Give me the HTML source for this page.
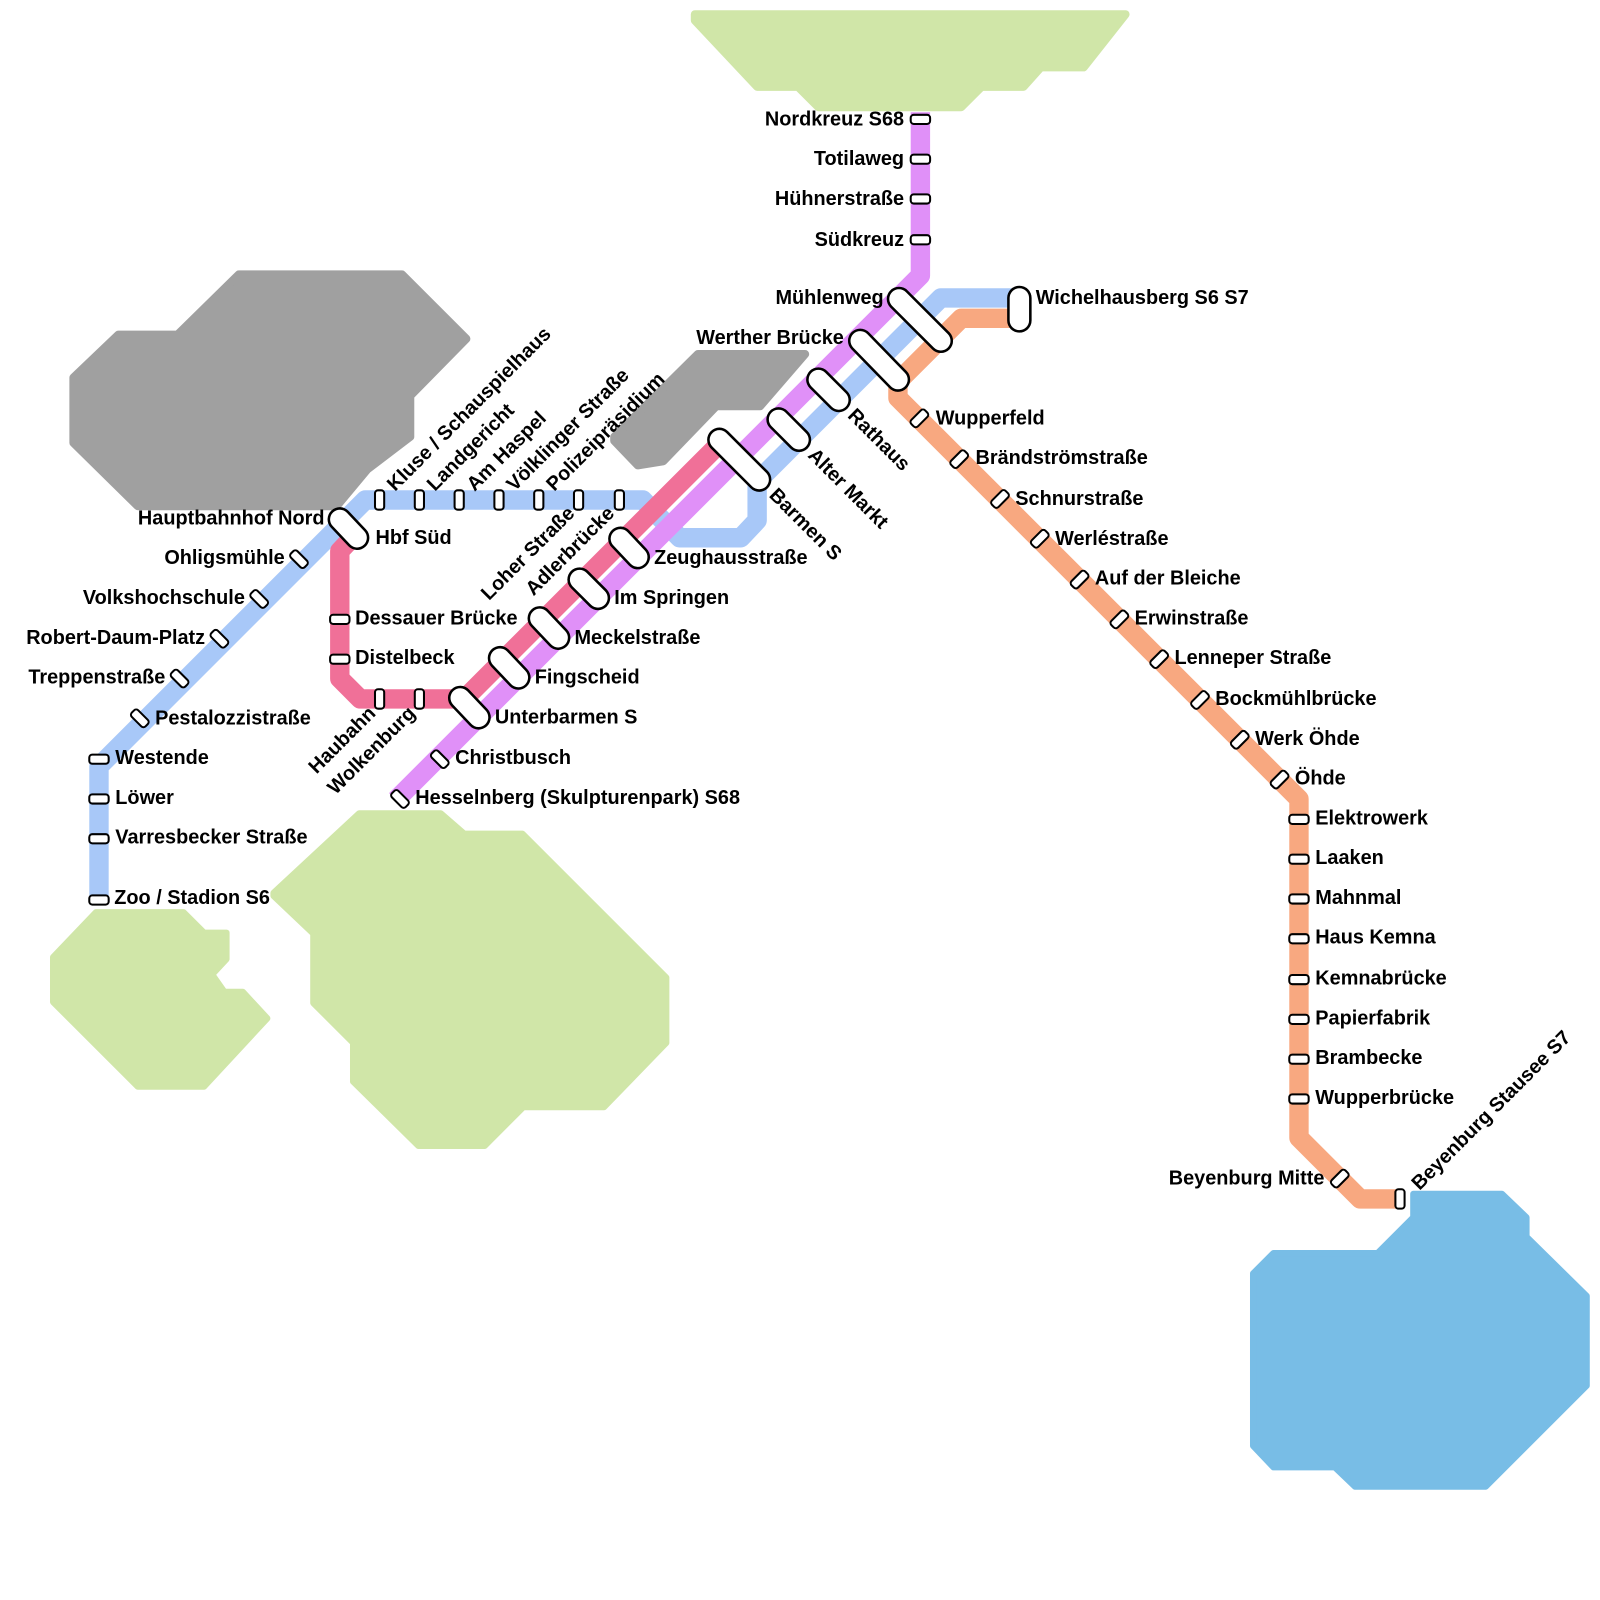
<!DOCTYPE html>
<html><head><meta charset="utf-8"><style>
html,body{margin:0;padding:0;background:#fff;}
svg{display:block}
text{font-family:"Liberation Sans",Arial,sans-serif;font-weight:bold;font-size:19.5px;fill:#000;dominant-baseline:central}
.e{text-anchor:end}
</style></head><body>
<svg width="1600" height="1600" viewBox="0 0 1600 1600" xmlns="http://www.w3.org/2000/svg">
<g transform="scale(1.0204)">
<g stroke-linejoin="round">
<polygon fill="#d0e6a8" stroke="#d0e6a8" stroke-width="8" points="681,14 1103,14 1062,66 1020,66 1003,85 962,85 942,105 802,105 782,85 742,85 681,20"/>
<polygon fill="#a0a0a0" stroke="#a0a0a0" stroke-width="8" points="234,269 394,269 457,332 402,388 402,428 360,460 330,496 135,496 72,434 72,370 116,328 174,328"/>
<polygon fill="#a0a0a0" stroke="#a0a0a0" stroke-width="8" points="684,347 789,347 745,398 702,398 650,452 625,456 602,432 602,428"/>
<polygon fill="#d0e6a8" stroke="#d0e6a8" stroke-width="6" points="94,894 180,894 200,914 222,914 222,940 208,955 220,972 238,972 262,998 200,1065 135,1065 52,982 52,938"/>
<polygon fill="#d0e6a8" stroke="#d0e6a8" stroke-width="6" points="352,797 432,797 455,817 512,817 653,958 653,1022 592,1085 513,1085 475,1123 410,1123 346,1060 346,1022 307,983 307,915 268,878 268,875"/>
<polygon fill="#78bde6" stroke="#78bde6" stroke-width="6" points="1385,1170 1472,1170 1496,1193 1496,1212 1555,1270 1555,1358 1456,1457 1328,1457 1308,1438 1248,1438 1228,1417 1228,1248 1248,1228 1350,1228 1385,1193"/>
</g>
<g fill="none" stroke-linejoin="round" stroke-linecap="butt" stroke-width="19">
<polyline stroke="#a8c8f8" points="998,292 922,292 742,472 742,510 726,527 666,527 630,490 358,490 97,751 97,886"/>
<polyline stroke="#f8a880" points="998,312 942,312 880,374 880,390 1273,783 1273,1115 1333,1175 1372,1175"/>
<polyline stroke="#f07098" points="350,522 333,540 333,665 353,685 455,685 708,432"/>
<polyline stroke="#e090f8" points="902,110 902,270 388,784"/>
</g>
<g stroke-linecap="round">
<g stroke="#000" stroke-width="24">
<line x1="881" y1="293" x2="922" y2="334"/><line x1="843" y1="334" x2="880" y2="372"/>
<line x1="802" y1="372" x2="822" y2="392"/><line x1="763" y1="411" x2="783" y2="431"/>
<line x1="705" y1="431" x2="744" y2="470"/><line x1="608" y1="528" x2="625" y2="546"/>
<line x1="568" y1="568" x2="586" y2="586"/><line x1="529" y1="606" x2="547" y2="625"/>
<line x1="490" y1="645" x2="508" y2="664"/><line x1="451" y1="684" x2="469" y2="703"/>
<line x1="333" y1="509" x2="350" y2="527"/><line x1="999" y1="292" x2="999" y2="314"/>
</g>
<g stroke="#fff" stroke-width="19">
<line x1="881" y1="293" x2="922" y2="334"/><line x1="843" y1="334" x2="880" y2="372"/>
<line x1="802" y1="372" x2="822" y2="392"/><line x1="763" y1="411" x2="783" y2="431"/>
<line x1="705" y1="431" x2="744" y2="470"/><line x1="608" y1="528" x2="625" y2="546"/>
<line x1="568" y1="568" x2="586" y2="586"/><line x1="529" y1="606" x2="547" y2="625"/>
<line x1="490" y1="645" x2="508" y2="664"/><line x1="451" y1="684" x2="469" y2="703"/>
<line x1="333" y1="509" x2="350" y2="527"/><line x1="999" y1="292" x2="999" y2="314"/>
</g>
</g>
<g fill="#fff" stroke="#000" stroke-width="2">
<g>
<rect x="892.5" y="112.5" width="19" height="9" rx="3"/><rect x="892.5" y="151.5" width="19" height="9" rx="3"/>
<rect x="892.5" y="190.5" width="19" height="9" rx="3"/><rect x="892.5" y="230.5" width="19" height="9" rx="3"/>
<rect x="1263.5" y="798.5" width="19" height="9" rx="3"/><rect x="1263.5" y="837.5" width="19" height="9" rx="3"/>
<rect x="1263.5" y="876.5" width="19" height="9" rx="3"/><rect x="1263.5" y="915.5" width="19" height="9" rx="3"/>
<rect x="1263.5" y="955.5" width="19" height="9" rx="3"/><rect x="1263.5" y="994.5" width="19" height="9" rx="3"/>
<rect x="1263.5" y="1033.5" width="19" height="9" rx="3"/><rect x="1263.5" y="1072.5" width="19" height="9" rx="3"/>
<rect x="87.5" y="739.5" width="19" height="9" rx="3"/><rect x="87.5" y="778.5" width="19" height="9" rx="3"/>
<rect x="87.5" y="817.5" width="19" height="9" rx="3"/><rect x="87.5" y="877.5" width="19" height="9" rx="3"/>
<rect x="323.5" y="602.5" width="19" height="9" rx="3"/><rect x="323.5" y="641.5" width="19" height="9" rx="3"/>
</g>
<g>
<rect x="367.5" y="480.5" width="9" height="19" rx="3"/><rect x="406.5" y="480.5" width="9" height="19" rx="3"/>
<rect x="445.5" y="480.5" width="9" height="19" rx="3"/><rect x="484.5" y="480.5" width="9" height="19" rx="3"/>
<rect x="523.5" y="480.5" width="9" height="19" rx="3"/><rect x="562.5" y="480.5" width="9" height="19" rx="3"/>
<rect x="602.5" y="480.5" width="9" height="19" rx="3"/>
<rect x="367.5" y="675.5" width="9" height="19" rx="3"/><rect x="406.5" y="675.5" width="9" height="19" rx="3"/>
<rect x="1367.5" y="1165.5" width="9" height="19" rx="3"/>
</g>
<g>
<rect x="-9.5" y="-4.5" width="19" height="9" rx="3" transform="translate(293,548) rotate(45)"/>
<rect x="-9.5" y="-4.5" width="19" height="9" rx="3" transform="translate(254,587) rotate(45)"/>
<rect x="-9.5" y="-4.5" width="19" height="9" rx="3" transform="translate(215,626) rotate(45)"/>
<rect x="-9.5" y="-4.5" width="19" height="9" rx="3" transform="translate(176,665) rotate(45)"/>
<rect x="-9.5" y="-4.5" width="19" height="9" rx="3" transform="translate(137,704) rotate(45)"/>
<rect x="-9.5" y="-4.5" width="19" height="9" rx="3" transform="translate(431,744) rotate(45)"/>
<rect x="-9.5" y="-4.5" width="19" height="9" rx="3" transform="translate(392,783) rotate(45)"/>
</g>
<g>
<rect x="-9.5" y="-4.5" width="19" height="9" rx="3" transform="translate(901,410) rotate(-45)"/>
<rect x="-9.5" y="-4.5" width="19" height="9" rx="3" transform="translate(940,450) rotate(-45)"/>
<rect x="-9.5" y="-4.5" width="19" height="9" rx="3" transform="translate(980,489) rotate(-45)"/>
<rect x="-9.5" y="-4.5" width="19" height="9" rx="3" transform="translate(1019,528) rotate(-45)"/>
<rect x="-9.5" y="-4.5" width="19" height="9" rx="3" transform="translate(1058,568) rotate(-45)"/>
<rect x="-9.5" y="-4.5" width="19" height="9" rx="3" transform="translate(1097,607) rotate(-45)"/>
<rect x="-9.5" y="-4.5" width="19" height="9" rx="3" transform="translate(1136,646) rotate(-45)"/>
<rect x="-9.5" y="-4.5" width="19" height="9" rx="3" transform="translate(1176,686) rotate(-45)"/>
<rect x="-9.5" y="-4.5" width="19" height="9" rx="3" transform="translate(1215,725) rotate(-45)"/>
<rect x="-9.5" y="-4.5" width="19" height="9" rx="3" transform="translate(1254,764) rotate(-45)"/>
<rect x="-9.5" y="-4.5" width="19" height="9" rx="3" transform="translate(1313,1155) rotate(-45)"/>
</g>
</g>
<g>
<text class="e" x="886" y="117">Nordkreuz S68</text>
<text class="e" x="886" y="156">Totilaweg</text>
<text class="e" x="886" y="195">Hühnerstraße</text>
<text class="e" x="886" y="235">Südkreuz</text>
<text class="e" x="866" y="292">Mühlenweg</text>
<text class="e" x="827" y="331">Werther Brücke</text>
<text x="1015" y="292">Wichelhausberg S6 S7</text>
<text transform="translate(834,404) rotate(45)">Rathaus</text>
<text transform="translate(795,443) rotate(45)">Alter Markt</text>
<text transform="translate(757,482) rotate(45)">Barmen S</text>
<text x="641" y="547">Zeughausstraße</text>
<text x="602" y="586">Im Springen</text>
<text x="563" y="625">Meckelstraße</text>
<text x="524" y="664">Fingscheid</text>
<text x="485" y="703">Unterbarmen S</text>
<text x="446" y="743">Christbusch</text>
<text x="407" y="782">Hesselnberg (Skulpturenpark) S68</text>
<text x="368" y="527">Hbf Süd</text>
<text class="e" x="318" y="508">Hauptbahnhof Nord</text>
<text class="e" x="279" y="547">Ohligsmühle</text>
<text class="e" x="240" y="586">Volkshochschule</text>
<text class="e" x="201" y="625">Robert-Daum-Platz</text>
<text class="e" x="162" y="664">Treppenstraße</text>
<text x="152" y="704">Pestalozzistraße</text>
<text x="113" y="743">Westende</text>
<text x="113" y="782">Löwer</text>
<text x="113" y="821">Varresbecker Straße</text>
<text x="112" y="880">Zoo / Stadion S6</text>
<text x="348" y="606">Dessauer Brücke</text>
<text x="348" y="645">Distelbeck</text>
<text transform="translate(383,478) rotate(-45)">Kluse / Schauspielhaus</text>
<text transform="translate(422,478) rotate(-45)">Landgericht</text>
<text transform="translate(461,478) rotate(-45)">Am Haspel</text>
<text transform="translate(500,478) rotate(-45)">Völklinger Straße</text>
<text transform="translate(539,478) rotate(-45)">Polizeipräsidium</text>
<text class="e" transform="translate(560,500) rotate(-45)">Loher Straße</text>
<text class="e" transform="translate(599,500) rotate(-45)">Adlerbrücke</text>
<text class="e" transform="translate(365,696) rotate(-45)">Haubahn</text>
<text class="e" transform="translate(404,696) rotate(-45)">Wolkenburg</text>
<text x="917" y="410">Wupperfeld</text>
<text x="956" y="449">Brändströmstraße</text>
<text x="995" y="489">Schnurstraße</text>
<text x="1034" y="528">Werléstraße</text>
<text x="1073" y="567">Auf der Bleiche</text>
<text x="1112" y="606">Erwinstraße</text>
<text x="1151" y="645">Lenneper Straße</text>
<text x="1191" y="685">Bockmühlbrücke</text>
<text x="1230" y="724">Werk Öhde</text>
<text x="1269" y="763">Öhde</text>
<text x="1289" y="802">Elektrowerk</text>
<text x="1289" y="841">Laaken</text>
<text x="1289" y="880">Mahnmal</text>
<text x="1289" y="919">Haus Kemna</text>
<text x="1289" y="959">Kemnabrücke</text>
<text x="1289" y="998">Papierfabrik</text>
<text x="1289" y="1037">Brambecke</text>
<text x="1289" y="1076">Wupperbrücke</text>
<text class="e" x="1298" y="1155">Beyenburg Mitte</text>
<text transform="translate(1387,1163) rotate(-45)">Beyenburg Stausee S7</text>
</g>
</g>
</svg>
</body></html>
